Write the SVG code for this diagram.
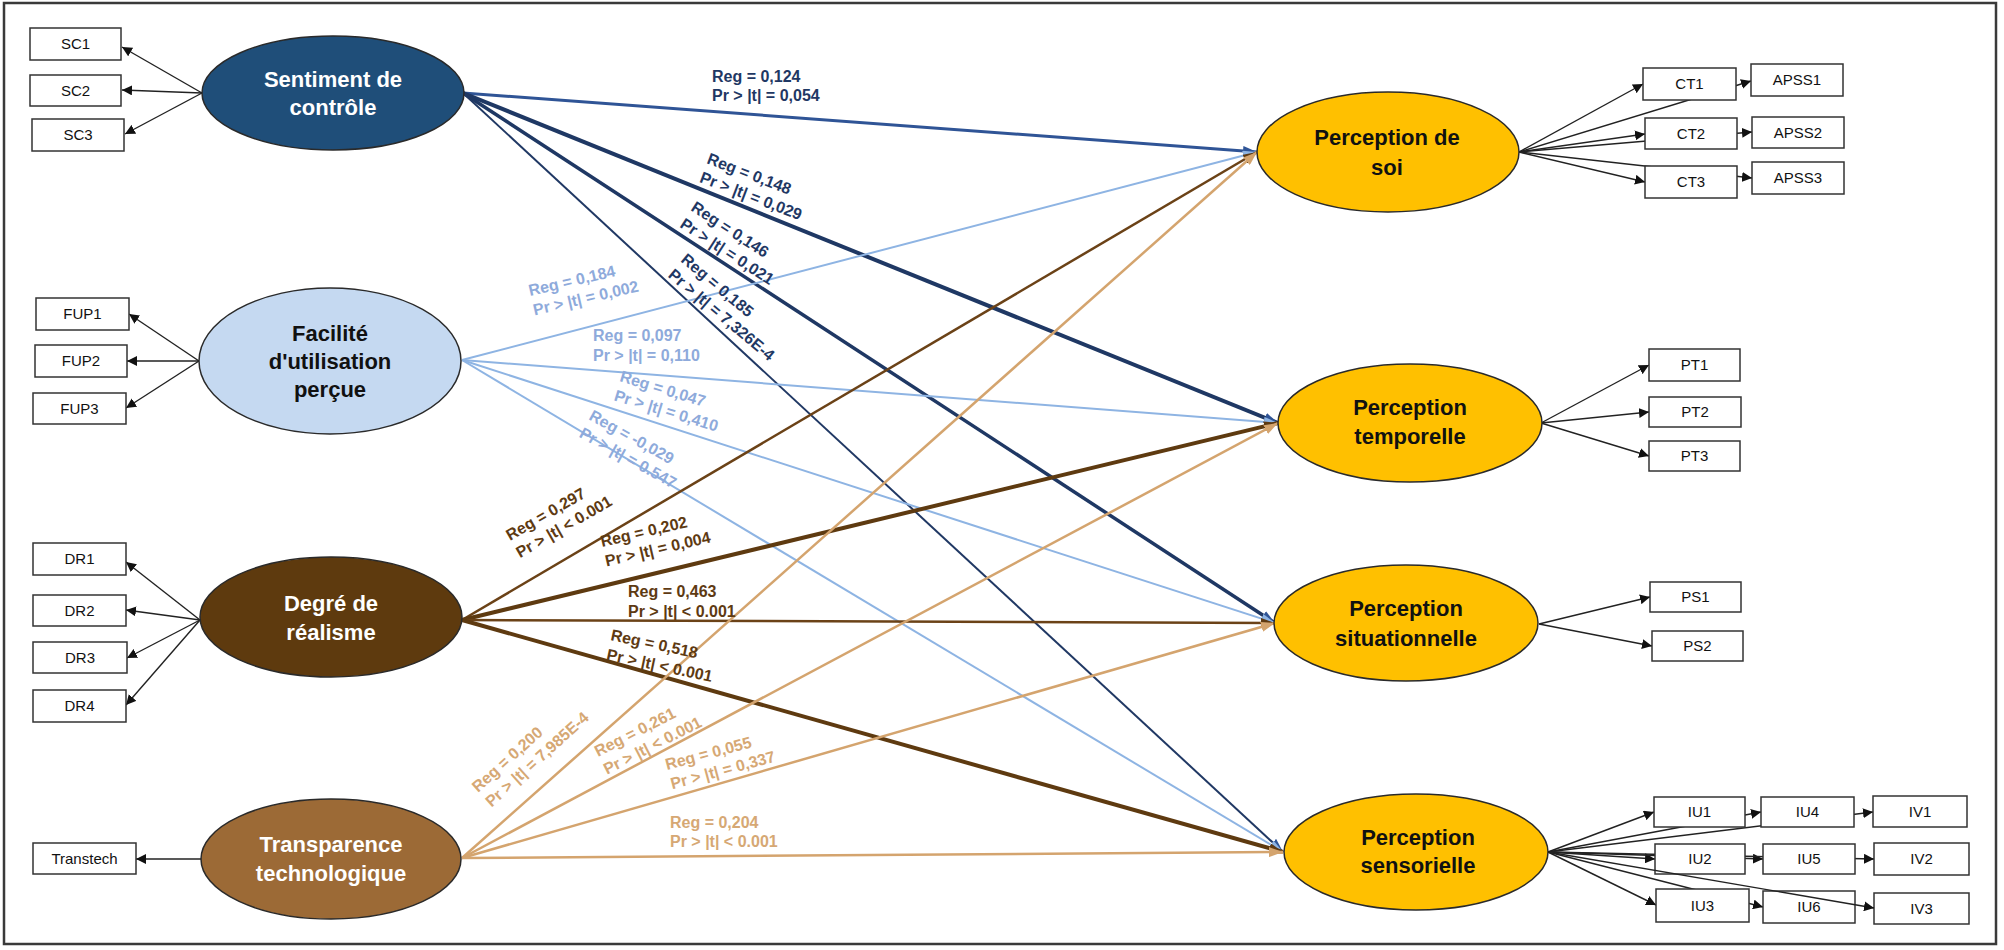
<svg xmlns="http://www.w3.org/2000/svg" width="2004" height="950" viewBox="0 0 2004 950">
<style>
  .frame{fill:#fff;stroke:#3a3a3a;stroke-width:2.5}
  .box{fill:#fff;stroke:#333;stroke-width:1.5}
  .btxt{font-family:"Liberation Sans",Arial,sans-serif;font-size:15px;fill:#111;text-anchor:middle}
  .ell{stroke:#2a2a2a;stroke-width:1.5}
  .etxt{font-family:"Liberation Sans",Arial,sans-serif;font-size:22px;font-weight:bold;text-anchor:middle}
  .ind{stroke:#222;stroke-width:1.4;fill:none;marker-end:url(#ah)}
  .lbl{font-family:"Liberation Sans",Arial,sans-serif;font-size:16px;font-weight:bold}
  .navy{fill:#1F3864}.lblue{fill:#8EAADB}.brown{fill:#5E3A12}.tan{fill:#D6A874}
</style>
<defs>
  <marker id="ah" markerUnits="userSpaceOnUse" markerWidth="10" markerHeight="10" refX="10" refY="5" orient="auto"><path d="M0,0 L10,5 L0,10 z" fill="#111"/></marker>
  <marker id="aNavy" markerUnits="userSpaceOnUse" markerWidth="14" markerHeight="10" refX="14" refY="5" orient="auto"><path d="M0,0 L14,5 L0,10 z" fill="#2F5496"/></marker>
  <marker id="aLb" markerUnits="userSpaceOnUse" markerWidth="14" markerHeight="10" refX="14" refY="5" orient="auto"><path d="M0,0 L14,5 L0,10 z" fill="#8EB4E3"/></marker>
  <marker id="aBr" markerUnits="userSpaceOnUse" markerWidth="14" markerHeight="10" refX="14" refY="5" orient="auto"><path d="M0,0 L14,5 L0,10 z" fill="#5E3A12"/></marker>
  <marker id="aTan" markerUnits="userSpaceOnUse" markerWidth="14" markerHeight="10" refX="14" refY="5" orient="auto"><path d="M0,0 L14,5 L0,10 z" fill="#D4A46E"/></marker>
</defs>
<rect class="frame" x="4" y="3" width="1992" height="941"/>

<g id="connectors" fill="none">
  <!-- structural paths -->
  <line x1="463" y1="93" x2="1257" y2="152" stroke="#2F5496" stroke-width="3" marker-end="url(#aNavy)"/>
  <line x1="463" y1="93" x2="1278" y2="423" stroke="#1F3864" stroke-width="4" marker-end="url(#aNavy)"/>
  <line x1="463" y1="93" x2="1275" y2="623" stroke="#1F3864" stroke-width="3.5" marker-end="url(#aNavy)"/>
  <line x1="463" y1="93" x2="1283" y2="852" stroke="#203864" stroke-width="2" marker-end="url(#aNavy)"/>
  <line x1="462" y1="360" x2="1257" y2="152" stroke="#8EB4E3" stroke-width="2" marker-end="url(#aLb)"/>
  <line x1="462" y1="360" x2="1278" y2="423" stroke="#8EB4E3" stroke-width="2" marker-end="url(#aLb)"/>
  <line x1="462" y1="360" x2="1275" y2="623" stroke="#8EB4E3" stroke-width="2" marker-end="url(#aLb)"/>
  <line x1="462" y1="360" x2="1283" y2="852" stroke="#8EB4E3" stroke-width="2" marker-end="url(#aLb)"/>
  <line x1="462" y1="620" x2="1257" y2="152" stroke="#6B4217" stroke-width="2.5" marker-end="url(#aBr)"/>
  <line x1="462" y1="620" x2="1278" y2="423" stroke="#5E3A10" stroke-width="4" marker-end="url(#aBr)"/>
  <line x1="462" y1="620" x2="1275" y2="623" stroke="#6B4217" stroke-width="2.5" marker-end="url(#aBr)"/>
  <line x1="462" y1="620" x2="1283" y2="852" stroke="#5E3A10" stroke-width="4" marker-end="url(#aBr)"/>
  <line x1="462" y1="858" x2="1257" y2="152" stroke="#D4A46E" stroke-width="2.5" marker-end="url(#aTan)"/>
  <line x1="462" y1="858" x2="1278" y2="423" stroke="#D4A46E" stroke-width="2.5" marker-end="url(#aTan)"/>
  <line x1="462" y1="858" x2="1275" y2="623" stroke="#D4A46E" stroke-width="2.5" marker-end="url(#aTan)"/>
  <line x1="462" y1="858" x2="1283" y2="852" stroke="#D4A46E" stroke-width="2.5" marker-end="url(#aTan)"/>
  <!-- indicators left -->
  <line class="ind" x1="202" y1="93" x2="122" y2="47"/>
  <line class="ind" x1="202" y1="93" x2="122" y2="90"/>
  <line class="ind" x1="202" y1="93" x2="125" y2="134"/>
  <line class="ind" x1="199" y1="361" x2="129" y2="314"/>
  <line class="ind" x1="199" y1="361" x2="127" y2="361"/>
  <line class="ind" x1="199" y1="361" x2="126" y2="408"/>
  <line class="ind" x1="200" y1="620" x2="126" y2="562"/>
  <line class="ind" x1="200" y1="620" x2="126" y2="610"/>
  <line class="ind" x1="200" y1="620" x2="127" y2="658"/>
  <line class="ind" x1="200" y1="620" x2="126" y2="705"/>
  <line class="ind" x1="201" y1="859" x2="136" y2="859"/>
  <!-- indicators right -->
  <line class="ind" x1="1519" y1="152" x2="1643" y2="84"/>
  <line class="ind" x1="1519" y1="152" x2="1751" y2="81"/>
  <line class="ind" x1="1519" y1="152" x2="1645" y2="134"/>
  <line class="ind" x1="1519" y1="152" x2="1752" y2="132"/>
  <line class="ind" x1="1519" y1="152" x2="1645" y2="182"/>
  <line class="ind" x1="1519" y1="152" x2="1752" y2="178"/>
  <line class="ind" x1="1541" y1="423" x2="1649" y2="365"/>
  <line class="ind" x1="1541" y1="423" x2="1649" y2="412"/>
  <line class="ind" x1="1541" y1="423" x2="1649" y2="456"/>
  <line class="ind" x1="1539" y1="624" x2="1650" y2="597"/>
  <line class="ind" x1="1539" y1="624" x2="1652" y2="646"/>
  <line class="ind" x1="1548" y1="852" x2="1654" y2="812"/>
  <line class="ind" x1="1548" y1="852" x2="1655" y2="859"/>
  <line class="ind" x1="1548" y1="852" x2="1656" y2="905"/>
  <line class="ind" x1="1548" y1="852" x2="1761" y2="812"/>
  <line class="ind" x1="1548" y1="852" x2="1763" y2="859"/>
  <line class="ind" x1="1548" y1="852" x2="1763" y2="907"/>
  <line class="ind" x1="1548" y1="852" x2="1873" y2="812"/>
  <line class="ind" x1="1548" y1="852" x2="1874" y2="859"/>
</g>

<g id="labels">
  <text class="lbl navy" x="712" y="82">Reg = 0,124</text>
  <text class="lbl navy" x="712" y="101">Pr &gt; |t| = 0,054</text>
  <g transform="translate(706,163) rotate(21)"><text class="lbl navy" x="0" y="0">Reg = 0,148</text><text class="lbl navy" x="0" y="20">Pr &gt; |t| = 0,029</text></g>
  <g transform="translate(690,210) rotate(33)"><text class="lbl navy" x="0" y="0">Reg = 0,146</text><text class="lbl navy" x="0" y="20">Pr &gt; |t| = 0,021</text></g>
  <g transform="translate(680,261) rotate(40)"><text class="lbl navy" x="0" y="0">Reg = 0,185</text><text class="lbl navy" x="0" y="20">Pr &gt; |t| = 7,326E-4</text></g>
  <g transform="translate(530,296) rotate(-13)"><text class="lbl lblue" x="0" y="0">Reg = 0,184</text><text class="lbl lblue" x="0" y="20">Pr &gt; |t| = 0,002</text></g>
  <text class="lbl lblue" x="593" y="341">Reg = 0,097</text>
  <text class="lbl lblue" x="593" y="361">Pr &gt; |t| = 0,110</text>
  <g transform="translate(619,381) rotate(17)"><text class="lbl lblue" x="0" y="0">Reg = 0,047</text><text class="lbl lblue" x="0" y="20">Pr &gt; |t| = 0,410</text></g>
  <g transform="translate(588,419) rotate(29)"><text class="lbl lblue" x="0" y="0">Reg = -0,029</text><text class="lbl lblue" x="0" y="20">Pr &gt; |t| = 0.547</text></g>
  <g transform="translate(510,541) rotate(-30)"><text class="lbl brown" x="0" y="0">Reg = 0,297</text><text class="lbl brown" x="0" y="20">Pr &gt; |t| &lt; 0.001</text></g>
  <g transform="translate(602,547) rotate(-13)"><text class="lbl brown" x="0" y="0">Reg = 0,202</text><text class="lbl brown" x="0" y="20">Pr &gt; |t| = 0,004</text></g>
  <text class="lbl brown" x="628" y="597">Reg = 0,463</text>
  <text class="lbl brown" x="628" y="617">Pr &gt; |t| &lt; 0.001</text>
  <g transform="translate(610,640) rotate(12)"><text class="lbl brown" x="0" y="0">Reg = 0,518</text><text class="lbl brown" x="0" y="20">Pr &gt; |t| &lt; 0.001</text></g>
  <g transform="translate(478,793) rotate(-42)"><text class="lbl tan" x="0" y="0">Reg = 0,200</text><text class="lbl tan" x="0" y="20">Pr &gt; |t| = 7,985E-4</text></g>
  <g transform="translate(598,757) rotate(-27)"><text class="lbl tan" x="0" y="0">Reg = 0,261</text><text class="lbl tan" x="0" y="20">Pr &gt; |t| &lt; 0.001</text></g>
  <g transform="translate(667,770) rotate(-15)"><text class="lbl tan" x="0" y="0">Reg = 0,055</text><text class="lbl tan" x="0" y="20">Pr &gt; |t| = 0,337</text></g>
  <text class="lbl tan" x="670" y="828">Reg = 0,204</text>
  <text class="lbl tan" x="670" y="847">Pr &gt; |t| &lt; 0.001</text>
</g>

<g id="sentiment"><ellipse class="ell" cx="333" cy="93" rx="131" ry="57" fill="#1F4E79"/><text class="etxt" x="333" y="87" fill="#fff">Sentiment de</text><text class="etxt" x="333" y="115" fill="#fff">contrôle</text></g>
<g id="facilite"><ellipse class="ell" cx="330" cy="361" rx="131" ry="73" fill="#C5D9F1"/><text class="etxt" x="330" y="341" fill="#111">Facilité</text><text class="etxt" x="330" y="369" fill="#111">d'utilisation</text><text class="etxt" x="330" y="397" fill="#111">perçue</text></g>
<g id="degre"><ellipse class="ell" cx="331" cy="617" rx="131" ry="60" fill="#5E3A0E"/><text class="etxt" x="331" y="611" fill="#fff">Degré de</text><text class="etxt" x="331" y="640" fill="#fff">réalisme</text></g>
<g id="transparence"><ellipse class="ell" cx="331" cy="859" rx="130" ry="60" fill="#9C6A36"/><text class="etxt" x="331" y="852" fill="#fff">Transparence</text><text class="etxt" x="331" y="881" fill="#fff">technologique</text></g>

<g id="soi"><ellipse class="ell" cx="1388" cy="152" rx="131" ry="60" fill="#FFC000"/><text class="etxt" x="1387" y="145" fill="#111">Perception de</text><text class="etxt" x="1387" y="175" fill="#111">soi</text></g>
<g id="temporelle"><ellipse class="ell" cx="1410" cy="423" rx="132" ry="59" fill="#FFC000"/><text class="etxt" x="1410" y="415" fill="#111">Perception</text><text class="etxt" x="1410" y="444" fill="#111">temporelle</text></g>
<g id="situationnelle"><ellipse class="ell" cx="1406" cy="623" rx="132" ry="58" fill="#FFC000"/><text class="etxt" x="1406" y="616" fill="#111">Perception</text><text class="etxt" x="1406" y="646" fill="#111">situationnelle</text></g>
<g id="sensorielle"><ellipse class="ell" cx="1416" cy="852" rx="132" ry="58" fill="#FFC000"/><text class="etxt" x="1418" y="845" fill="#111">Perception</text><text class="etxt" x="1418" y="873" fill="#111">sensorielle</text></g>

<g id="SC1"><rect class="box" x="30" y="28" width="91" height="32"/><text class="btxt" x="75.5" y="49">SC1</text></g>
<g id="SC2"><rect class="box" x="30" y="75" width="91" height="31"/><text class="btxt" x="75.5" y="96">SC2</text></g>
<g id="SC3"><rect class="box" x="32" y="119" width="92" height="32"/><text class="btxt" x="78" y="140">SC3</text></g>
<g id="FUP1"><rect class="box" x="36" y="298" width="93" height="32"/><text class="btxt" x="82.5" y="319">FUP1</text></g>
<g id="FUP2"><rect class="box" x="35" y="345" width="92" height="32"/><text class="btxt" x="81" y="366">FUP2</text></g>
<g id="FUP3"><rect class="box" x="33" y="393" width="93" height="31"/><text class="btxt" x="79.5" y="414">FUP3</text></g>
<g id="DR1"><rect class="box" x="33" y="543" width="93" height="32"/><text class="btxt" x="79.5" y="564">DR1</text></g>
<g id="DR2"><rect class="box" x="33" y="595" width="93" height="31"/><text class="btxt" x="79.5" y="616">DR2</text></g>
<g id="DR3"><rect class="box" x="33" y="642" width="94" height="31"/><text class="btxt" x="80" y="663">DR3</text></g>
<g id="DR4"><rect class="box" x="33" y="690" width="93" height="32"/><text class="btxt" x="79.5" y="711">DR4</text></g>
<g id="Transtech"><rect class="box" x="33" y="843" width="103" height="31"/><text class="btxt" x="84.5" y="864">Transtech</text></g>

<g id="CT1"><rect class="box" x="1643" y="68" width="93" height="32"/><text class="btxt" x="1689.5" y="89">CT1</text></g>
<g id="APSS1"><rect class="box" x="1751" y="64" width="92" height="32"/><text class="btxt" x="1797" y="85">APSS1</text></g>
<g id="CT2"><rect class="box" x="1645" y="118" width="92" height="31"/><text class="btxt" x="1691" y="139">CT2</text></g>
<g id="APSS2"><rect class="box" x="1752" y="117" width="92" height="31"/><text class="btxt" x="1798" y="138">APSS2</text></g>
<g id="CT3"><rect class="box" x="1645" y="166" width="92" height="32"/><text class="btxt" x="1691" y="187">CT3</text></g>
<g id="APSS3"><rect class="box" x="1752" y="162" width="92" height="32"/><text class="btxt" x="1798" y="183">APSS3</text></g>
<g id="PT1"><rect class="box" x="1649" y="349" width="91" height="32"/><text class="btxt" x="1694.5" y="370">PT1</text></g>
<g id="PT2"><rect class="box" x="1649" y="397" width="92" height="30"/><text class="btxt" x="1695" y="417">PT2</text></g>
<g id="PT3"><rect class="box" x="1649" y="441" width="91" height="30"/><text class="btxt" x="1694.5" y="461">PT3</text></g>
<g id="PS1"><rect class="box" x="1650" y="582" width="91" height="30"/><text class="btxt" x="1695.5" y="602">PS1</text></g>
<g id="PS2"><rect class="box" x="1652" y="631" width="91" height="30"/><text class="btxt" x="1697.5" y="651">PS2</text></g>
<g id="IU1"><rect class="box" x="1654" y="797" width="91" height="30"/><text class="btxt" x="1699.5" y="817">IU1</text></g>
<g id="IU4"><rect class="box" x="1761" y="797" width="93" height="30"/><text class="btxt" x="1807.5" y="817">IU4</text></g>
<g id="IV1"><rect class="box" x="1873" y="796" width="94" height="31"/><text class="btxt" x="1920" y="817">IV1</text></g>
<g id="IU2"><rect class="box" x="1655" y="844" width="90" height="30"/><text class="btxt" x="1700" y="864">IU2</text></g>
<g id="IU5"><rect class="box" x="1763" y="844" width="92" height="30"/><text class="btxt" x="1809" y="864">IU5</text></g>
<g id="IV2"><rect class="box" x="1874" y="843" width="95" height="32"/><text class="btxt" x="1921.5" y="864">IV2</text></g>
<g id="IU3"><rect class="box" x="1656" y="889" width="93" height="33"/><text class="btxt" x="1702.5" y="911">IU3</text></g>
<g id="IU6"><rect class="box" x="1763" y="891" width="92" height="32"/><text class="btxt" x="1809" y="912">IU6</text></g>
<g id="IV3"><rect class="box" x="1874" y="893" width="95" height="31"/><text class="btxt" x="1921.5" y="914">IV3</text></g>

<g id="connector-iv3"><line class="ind" x1="1548" y1="852" x2="1874" y2="908"/></g>
</svg>
